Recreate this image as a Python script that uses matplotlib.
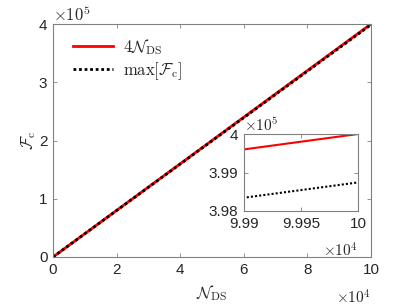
import numpy as np
import matplotlib.pyplot as plt
from matplotlib.ticker import FuncFormatter

plt.rcParams['font.family'] = ['Liberation Sans', 'DejaVu Sans']
plt.rcParams['mathtext.fontset'] = 'cm'

# datos
N_DS = [0, 99900, 100000]
F_4N = [0, 399600, 400000]
F_max = [0, 398345, 398742]

txt = '#262626'

def estilo(ax):
    for s in ax.spines.values():
        s.set_color('#808080')
        s.set_linewidth(0.8)
    ax.tick_params(direction='in', top=True, right=True, length=3,
                   width=0.6, color='#808080', labelcolor=txt, labelsize=11, pad=4)

fig = plt.figure(figsize=(4.09, 3.07), dpi=100)
ax = fig.add_axes([53/409, 1 - 257/307, 318/409, 233/307])
ax.plot(N_DS, F_4N, color='red', lw=2, label=r'$4\mathcal{N}_{\rm DS}$')
ax.plot(N_DS, F_max, color='black', lw=2, ls=(0, (1, 1)), label=r'$\max[\mathcal{F}_{\rm c}]$')
ax.set_xlim(0, 1e5)
ax.set_ylim(0, 4e5)
ax.set_xticks(np.arange(0, 1e5 + 1, 2e4))
ax.set_yticks(np.arange(0, 4e5 + 1, 1e5))
ax.xaxis.set_major_formatter(FuncFormatter(lambda v, p: '%g' % (v / 1e4)))
ax.yaxis.set_major_formatter(FuncFormatter(lambda v, p: '%g' % (v / 1e5)))
estilo(ax)
ax.set_xlabel(r'$\mathcal{N}_{\rm DS}$', fontsize=12, labelpad=5, color=txt)
ax.set_ylabel(r'$\mathcal{F}_{\rm c}$', fontsize=12, labelpad=1, color=txt)
ax.text(0, 1.0, r'$\times10^5$', transform=ax.transAxes, fontsize=12,
        ha='left', va='bottom', color=txt)
ax.text(1.0, -0.135, r'$\times10^4$', transform=ax.transAxes, fontsize=11,
        ha='right', va='top', color=txt)
leg = ax.legend(loc='upper left', bbox_to_anchor=(0.063, 0.945), frameon=False,
                fontsize=12, handlelength=2.4, handletextpad=0.6,
                borderaxespad=0, borderpad=0, labelspacing=0.2)
for t in leg.get_texts():
    t.set_color(txt)

# inset
axi = fig.add_axes([244/409, 1 - 211/307, 114/409, 77/307])
axi.plot(N_DS, F_4N, color='red', lw=1.5)
axi.plot(N_DS, F_max, color='black', lw=1.5, ls=(0, (1, 1)))
axi.set_xlim(99900, 100000)
axi.set_ylim(398000, 400000)
axi.set_xticks([99900, 99950, 100000])
axi.set_yticks([398000, 399000, 400000])
axi.xaxis.set_major_formatter(FuncFormatter(lambda v, p: '%g' % (v / 1e4)))
axi.yaxis.set_major_formatter(FuncFormatter(lambda v, p: '%g' % (v / 1e5)))
estilo(axi)
axi.text(0, 1.0, r'$\times10^5$', transform=axi.transAxes, fontsize=11,
         ha='left', va='bottom', color=txt)
axi.text(1.0, -0.4, r'$\times10^4$', transform=axi.transAxes, fontsize=11,
         ha='right', va='top', color=txt)

fig.savefig('out.png', dpi=100)
